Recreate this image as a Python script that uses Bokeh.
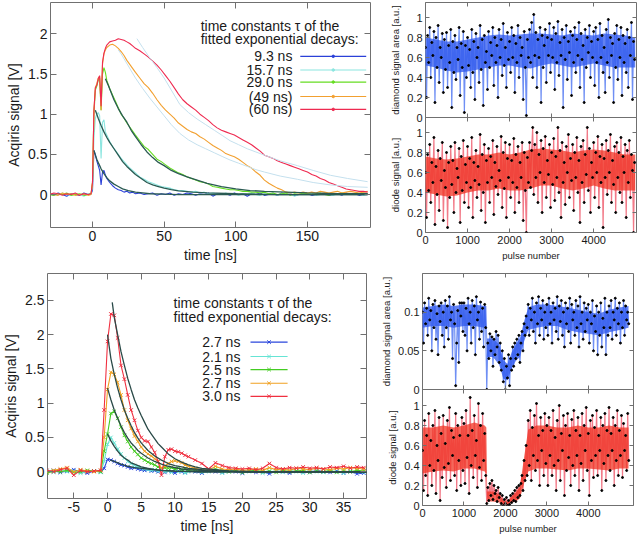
from bokeh.plotting import figure
from bokeh.layouts import row, column
from bokeh.models import FixedTicker, NumeralTickFormatter, LinearAxis, Label, Range1d
from bokeh.embed import file_html
from bokeh.resources import INLINE

FONT = "Liberation Sans"
FRAME = "#707070"
TXT = "#1a1a1a"

# ---------------- top-left: Acqiris traces (ns) ----------------
t_top = [-30, -27, -24, -21, -18, -15, -12, -9, -6, -3, -1,
         0, 1, 2, 3, 4, 5, 6, 7, 8, 9, 10,
         12, 14, 16, 18, 20, 22, 24, 26, 28, 30,
         33, 36, 39, 42, 45, 48, 51, 54, 57, 60,
         63, 66, 69, 72, 75, 78, 81, 84, 87, 90,
         93, 96, 99, 102, 105, 108, 111, 114, 117, 120,
         123, 126, 129, 132, 135, 138, 141, 144, 147, 150,
         153, 156, 159, 162, 165, 168, 171, 174, 177, 180,
         183, 186, 189, 192]
tl_blue = [0.01, -0.01, 0.02, 0.0, -0.02, 0.01, 0.0, -0.01, 0.02, 0.0, 0.01,
           0.05, 0.55, 0.5, 0.42, 0.36, 0.3, 0.12, 0.28, 0.3, 0.24, 0.2,
           0.15, 0.11, 0.08, 0.06, 0.05, 0.03, 0.04, 0.02, 0.03, 0.01,
           0.02, 0.0, 0.01, 0.02, -0.01, 0.01, 0.0, 0.02, -0.01, 0.01,
           0.0, 0.02, 0.01, -0.01, 0.01, 0.0, 0.02, -0.02, 0.01, 0.0,
           0.01, -0.01, 0.02, 0.0, 0.01, -0.02, 0.01, 0.0, 0.02, -0.01,
           0.0, 0.01, -0.01, 0.02, 0.0, 0.01, -0.01, 0.0, 0.02, 0.01,
           -0.01, 0.0, 0.01, 0.02, -0.01, 0.0, 0.01, -0.01, 0.02, 0.0,
           0.01, -0.01, 0.0, 0.01]
tl_cyan = [0.0, 0.01, -0.01, 0.02, 0.0, -0.01, 0.01, 0.0, -0.02, 0.01, 0.0,
           0.1, 0.7, 0.95, 1.0, 1.02, 0.98, 0.45, 0.9, 0.93, 0.78, 0.74,
           0.66, 0.6, 0.55, 0.5, 0.45, 0.41, 0.37, 0.33, 0.3, 0.27,
           0.22, 0.19, 0.16, 0.14, 0.12, 0.1, 0.09, 0.08, 0.06, 0.05,
           0.05, 0.04, 0.03, 0.04, 0.02, 0.03, 0.01, 0.02, 0.01, 0.0,
           0.02, 0.0, 0.01, -0.01, 0.01, 0.0, 0.02, 0.0, -0.01, 0.01,
           0.0, 0.02, -0.01, 0.01, 0.0, 0.01, -0.02, 0.0, 0.01, 0.0,
           0.02, -0.01, 0.0, 0.01, 0.0, -0.01, 0.01, 0.02, 0.0, 0.01,
           0.0, 0.01, -0.01, 0.0]
tl_green = [0.0, -0.01, 0.01, 0.0, 0.02, -0.01, 0.0, 0.01, -0.01, 0.0, 0.01,
            0.15, 1.0, 1.3, 1.35, 1.42, 1.45, 1.05, 1.5, 1.58, 1.52, 1.42,
            1.32, 1.24, 1.16, 1.08, 1.0, 0.95, 0.89, 0.84, 0.79, 0.74,
            0.67, 0.6, 0.56, 0.5, 0.44, 0.41, 0.37, 0.33, 0.3, 0.27,
            0.25, 0.22, 0.2, 0.18, 0.16, 0.15, 0.13, 0.1, 0.09, 0.08,
            0.07, 0.06, 0.06, 0.05, 0.04, 0.04, 0.03, 0.03, 0.02, 0.03,
            0.01, 0.02, 0.0, 0.01, 0.02, -0.01, 0.01, 0.0, 0.02, 0.01,
            0.0, 0.01, 0.02, 0.0, -0.01, 0.01, 0.0, 0.02, 0.01, 0.0,
            0.01, 0.0, 0.02, 0.01]
tl_orange = [0.01, 0.0, -0.01, 0.02, 0.0, 0.01, -0.01, 0.0, 0.01, -0.01, 0.0,
             0.15, 1.05, 1.33, 1.38, 1.45, 1.47, 1.05, 1.62, 1.75, 1.8, 1.83,
             1.86, 1.87, 1.85, 1.82, 1.78, 1.73, 1.67, 1.62, 1.57, 1.52,
             1.45, 1.38, 1.33, 1.26, 1.18, 1.11, 1.05, 1.0, 0.95, 0.89,
             0.85, 0.81, 0.78, 0.76, 0.72, 0.69, 0.65, 0.61, 0.58, 0.55,
             0.51, 0.49, 0.47, 0.44, 0.4, 0.36, 0.33, 0.28, 0.24, 0.18,
             0.14, 0.11, 0.08, 0.06, 0.03, 0.02, 0.03, 0.02, 0.03, 0.02,
             0.03, 0.02, 0.04, 0.03, 0.02, 0.03, 0.04, 0.02, 0.03, 0.04,
             0.03, 0.02, 0.03, 0.04]
tl_red = [0.0, 0.02, 0.01, -0.01, 0.01, 0.0, 0.02, -0.01, 0.01, 0.0, 0.01,
          0.15, 1.05, 1.33, 1.36, 1.44, 1.48, 1.1, 1.65, 1.76, 1.82, 1.86,
          1.9, 1.91, 1.92, 1.94, 1.93, 1.92, 1.9, 1.88, 1.85, 1.82,
          1.79, 1.75, 1.71, 1.66, 1.61, 1.55, 1.48, 1.41, 1.33, 1.25,
          1.18, 1.13, 1.09, 1.05, 1.0, 0.96, 0.92, 0.87, 0.83, 0.8,
          0.78, 0.76, 0.74, 0.71, 0.68, 0.65, 0.62, 0.58, 0.54, 0.49,
          0.47, 0.45, 0.42, 0.4, 0.38, 0.36, 0.34, 0.32, 0.3, 0.28,
          0.25, 0.23, 0.2, 0.18, 0.15, 0.13, 0.11, 0.09, 0.07, 0.06,
          0.05, 0.04, 0.04, 0.03]

# fitted exponential decays (top-left)
tl_fit_blue_t = [1, 2, 3, 4, 5, 6, 8, 10, 12, 15, 18, 21, 25, 30, 35, 40, 50, 60, 80, 100, 130, 160, 192]
tl_fit_blue_v = [0.55, 0.49, 0.44, 0.4, 0.36, 0.32, 0.26, 0.21, 0.17, 0.13, 0.1, 0.07, 0.05, 0.03, 0.02, 0.01, 0.005, 0.0, 0.0, 0.0, 0.0, 0.0, 0.0]
tl_fit_cyan_t = [2, 4, 6, 8, 10, 12, 15, 18, 21, 24, 27, 30, 34, 38, 42, 46, 50, 55, 60, 70, 80, 100, 130, 160, 192]
tl_fit_cyan_v = [1.05, 0.95, 0.86, 0.78, 0.71, 0.65, 0.57, 0.49, 0.41, 0.35, 0.3, 0.25, 0.2, 0.15, 0.12, 0.1, 0.08, 0.06, 0.045, 0.03, 0.02, 0.01, 0.0, 0.0, 0.0]
tl_fit_green_t = [9, 11, 13, 15, 18, 21, 24, 27, 30, 34, 38, 42, 46, 50, 55, 60, 66, 73, 80, 90, 100, 110, 120, 135, 150, 170, 192]
tl_fit_green_v = [1.44, 1.36, 1.27, 1.18, 1.07, 0.98, 0.9, 0.8, 0.72, 0.62, 0.53, 0.46, 0.4, 0.36, 0.3, 0.26, 0.22, 0.18, 0.14, 0.1, 0.07, 0.05, 0.04, 0.03, 0.02, 0.01, 0.01]
tl_fit_orange_t = [18, 20, 25, 30, 35, 40, 45, 50, 55, 61, 67, 73, 79, 85, 91, 96, 102, 108, 114, 120, 131, 143, 154, 166, 178, 192]
tl_fit_orange_v = [1.8, 1.75, 1.6, 1.45, 1.32, 1.2, 1.09, 0.98, 0.87, 0.76, 0.68, 0.62, 0.57, 0.52, 0.47, 0.43, 0.39, 0.35, 0.31, 0.28, 0.23, 0.19, 0.15, 0.12, 0.1, 0.09]
tl_fit_red_t = [31, 35, 40, 45, 50, 55, 61, 67, 73, 79, 85, 91, 96, 102, 108, 114, 120, 131, 143, 154, 166, 178, 192]
tl_fit_red_v = [1.94, 1.83, 1.7, 1.58, 1.45, 1.3, 1.12, 1.02, 0.94, 0.87, 0.8, 0.73, 0.67, 0.62, 0.57, 0.53, 0.49, 0.42, 0.36, 0.3, 0.24, 0.2, 0.16]
tl_labels = ["9.3 ns", "15.7 ns", "29.0 ns", "(49 ns)", "(60 ns)"]

# ---------------- bottom-left: Acqiris traces (ns) ----------------
t_bot = [-9, -8, -7, -6, -5, -4, -3, -2, -1,
         -0.5, 0, 0.5, 1, 1.5, 2, 2.5, 3, 3.5, 4, 4.5, 5, 5.5, 6, 6.5, 7, 7.5, 8, 8.5, 9, 9.5, 10, 10.5, 11, 11.5, 12,
         13, 14, 15, 16, 17, 18, 19, 20, 21, 22, 23, 24, 25, 26, 27, 28, 29, 30, 31, 32, 33, 34, 35, 36, 37, 38]
bl_blue = [0.0, 0.02, -0.01, 0.01, 0.03, 0.0, -0.02, 0.01, 0.0,
           0.05, 0.18, 0.17, 0.15, 0.12, 0.1, 0.09, 0.07, 0.05, 0.06, 0.04, 0.03, 0.02, 0.03, 0.01, 0.02, 0.0, 0.02, -0.01, 0.01, 0.0, -0.02, 0.01, 0.0, -0.01, 0.01,
           0.0, -0.02, 0.01, 0.0, -0.01, 0.02, 0.0, -0.02, 0.01, -0.01, 0.0, -0.03, 0.01, 0.0, -0.02, 0.01, 0.0, -0.01, 0.02, 0.0, -0.01, 0.01, -0.02, 0.0, -0.03, -0.02]
bl_cyan = [0.01, -0.01, 0.02, 0.0, 0.01, -0.02, 0.0, 0.01, -0.01,
           0.15, 0.4, 0.5, 0.42, 0.33, 0.26, 0.2, 0.15, 0.12, 0.09, 0.07, 0.05, 0.04, 0.03, 0.02, 0.03, 0.01, 0.02, 0.0, 0.01, -0.01, 0.02, 0.0, 0.01, -0.02, 0.0,
           0.01, -0.01, 0.0, 0.02, -0.02, 0.0, 0.01, -0.01, 0.0, 0.01, -0.02, 0.0, 0.01, -0.01, 0.02, 0.0, -0.02, 0.01, 0.0, -0.01, 0.01, 0.0, -0.02, 0.01, 0.0, -0.01]
bl_green = [-0.02, 0.01, 0.0, 0.02, -0.01, 0.0, 0.02, 0.01, 0.0,
            0.3, 0.55, 0.85, 0.88, 0.78, 0.65, 0.53, 0.44, 0.36, 0.3, 0.25, 0.2, 0.17, 0.14, 0.12, 0.1, 0.07, 0.05, 0.06, 0.05, 0.06, 0.04, 0.05, 0.03, 0.04, 0.02,
            0.03, 0.01, 0.02, 0.04, 0.01, 0.0, 0.02, -0.01, 0.01, 0.02, 0.0, 0.01, -0.01, 0.02, 0.0, 0.01, 0.02, -0.01, 0.01, 0.0, 0.02, -0.01, 0.01, 0.0, 0.02, 0.01]
bl_orange = [0.0, 0.02, 0.04, 0.06, 0.0, 0.03, 0.01, 0.0, 0.02,
             0.5, 1.2, 1.45, 1.42, 1.3, 1.12, 0.9, 0.75, 0.63, 0.52, 0.44, 0.36, 0.3, 0.26, 0.23, 0.19, 0.15, 0.05, 0.08, 0.12, 0.15, 0.16, 0.15, 0.13, 0.1, 0.08,
             0.05, 0.03, 0.02, 0.08, 0.04, 0.03, 0.04, 0.02, 0.03, 0.04, 0.02, 0.06, 0.03, 0.04, 0.02, 0.05, 0.04, 0.03, 0.05, 0.04, 0.03, 0.05, 0.04, 0.06, 0.05, 0.04]
bl_red = [0.02, 0.0, 0.03, 0.05, -0.05, 0.02, 0.0, 0.01, 0.02,
          0.9, 1.9, 2.3, 2.28, 1.95, 1.55, 1.35, 1.12, 0.9, 0.75, 0.6, 0.5, 0.45, 0.44, 0.36, 0.28, 0.15, -0.05, 0.22, 0.32, 0.33, 0.3, 0.29, 0.27, 0.24, 0.22,
          0.17, 0.12, 0.04, 0.13, 0.09, 0.06, 0.05, 0.04, 0.05, 0.03, 0.05, 0.12, 0.06, 0.04, 0.06, 0.05, 0.07, 0.05, 0.06, 0.04, 0.07, 0.06, 0.08, 0.05, 0.07, 0.06]

bl_fit_blue_t = [0.4, 1, 2, 3, 4, 5, 6, 8, 10, 14, 38.5]
bl_fit_blue_v = [0.17, 0.15, 0.11, 0.08, 0.06, 0.05, 0.04, 0.02, 0.01, 0.0, 0.0]
bl_fit_cyan_t = [0, 0.5, 1, 1.5, 2, 2.5, 3, 3.5, 4, 5, 6, 7, 8, 10, 14, 38.5]
bl_fit_cyan_v = [0.55, 0.45, 0.37, 0.3, 0.24, 0.2, 0.17, 0.13, 0.11, 0.07, 0.05, 0.03, 0.02, 0.01, 0.0, 0.0]
bl_fit_green_t = [0, 0.5, 1, 1.5, 2, 2.5, 3, 3.5, 4, 4.5, 5, 6, 7, 8, 9, 10, 11, 12, 14, 16, 20, 38.5]
bl_fit_green_v = [1.22, 1.05, 0.9, 0.78, 0.67, 0.57, 0.49, 0.42, 0.37, 0.31, 0.27, 0.2, 0.15, 0.11, 0.08, 0.06, 0.04, 0.03, 0.02, 0.01, 0.0, 0.0]
bl_fit_orange_t = [0, 0.5, 1, 1.5, 2, 2.5, 3, 3.5, 4, 4.5, 5, 6, 7, 8, 9, 10, 11, 12, 14, 16, 18, 22, 38.5]
bl_fit_orange_v = [2.0, 1.65, 1.42, 1.22, 1.05, 0.9, 0.78, 0.67, 0.57, 0.49, 0.42, 0.31, 0.23, 0.17, 0.12, 0.09, 0.07, 0.05, 0.03, 0.02, 0.01, 0.0, 0.0]
bl_fit_red_t = [0.7, 1, 1.5, 2, 2.5, 3, 3.5, 4, 4.5, 5, 5.5, 6, 6.5, 7, 7.5, 8, 9, 10, 11, 12, 13, 14, 16, 18, 22, 30, 38.5]
bl_fit_red_v = [2.47, 2.25, 2.0, 1.75, 1.55, 1.36, 1.2, 1.05, 0.93, 0.82, 0.72, 0.62, 0.55, 0.48, 0.41, 0.36, 0.26, 0.19, 0.14, 0.1, 0.07, 0.05, 0.03, 0.01, 0.0, 0.0, 0.0]
bl_labels = ["2.7 ns", "2.1 ns", "2.5 ns", "2.7 ns", "3.0 ns"]

# ---------------- right panels: per-pulse signals (every 25th pulse) ----------------
pulse = list(range(0, 5000, 25))
tr_diamond = [
    0.7, 0.2, 0.82, 0.55, 0.9, 0.4, 0.75, 0.62, 0.86, 0.15, 0.8, 0.5, 0.92, 0.35, 0.7, 0.6, 0.84, 0.25, 0.78, 0.48,
    0.85, 0.3, 0.72, 0.55, 0.88, 0.1, 0.76, 0.45, 0.82, 0.38, 0.7, 0.58, 0.9, 0.22, 0.74, 0.5, 0.86, 0.05, 0.72, 0.4,
    0.8, 0.52, 0.68, 0.3, 0.88, 0.45, 0.76, 0.18, 0.84, 0.6, 0.7, 0.35, 0.92, 0.48, 0.78, 0.12, 0.82, 0.55, 0.66, 0.28,
    0.86, 0.5, 0.75, 0.62, 0.9, 0.32, 0.8, 0.55, 0.72, 0.2, 0.88, 0.6, 0.78, 0.42, 0.94, 0.52, 0.7, 0.3, 0.85, 0.58,
    0.76, 0.45, 0.9, 0.6, 0.82, 0.25, 0.74, 0.55, 0.92, 0.4, 0.8, 0.62, 0.7, 0.18, 0.86, 0.5, 0.02, 0.78, 0.6, 0.88,
    0.55, 0.95, 0.4, 1.03, 0.62, 0.85, 0.3, 0.78, 0.6, 0.9, 0.15, 0.82, 0.5, 0.72, 0.88, 0.35, 0.8, 0.62, 0.94, 0.45,
    0.78, 0.6, 0.9, 0.28, 0.84, 0.55, 0.96, 0.42, 0.75, 0.62, 0.88, 0.1, 0.8, 0.58, 0.92, 0.38, 0.76, 0.65, 0.86, 0.22,
    0.82, 0.55, 0.9, 0.45, 0.78, 0.62, 0.95, 0.3, 0.84, 0.58, 0.72, 0.15, 0.88, 0.5, 0.8, 0.65, 0.92, 0.4, 0.76, 0.6,
    0.86, 0.32, 0.9, 0.55, 0.78, 0.2, 0.94, 0.6, 0.82, 0.45, 0.7, 0.25, 0.88, 0.55, 0.98, 0.4, 0.8, 0.62, 0.74, 0.15,
    0.84, 0.5, 0.92, 0.38, 0.78, 0.6, 0.9, 0.22, 0.82, 0.55, 0.74, 0.45, 0.88, 0.3, 0.8, 0.62, 0.95, 0.18, 0.76, 0.58]
tr_diode = [
    0.6, 0.15, 0.78, 0.42, 0.88, 0.3, 0.7, 0.5, 0.95, 0.08, 0.66, 0.38, 0.82, 0.22, 0.74, 0.52, 0.9, 0.12, 0.62, 0.45,
    0.8, 0.05, 0.7, 0.35, 0.86, 0.48, 0.72, 0.2, 0.9, 0.4, 0.64, 0.55, 0.84, 0.1, 0.76, 0.42, 0.92, 0.3, 0.68, 0.5,
    0.86, 0.25, 0.74, 0.45, 0.95, 0.15, 0.7, 0.52, 0.82, 0.35, 0.66, 0.48, 0.98, 0.22, 0.78, 0.4, 0.88, 0.1, 0.72, 0.5,
    0.84, 0.3, 0.76, 0.55, 0.92, 0.18, 0.7, 0.46, 0.86, 0.38, 0.62, 0.52, 0.96, 0.25, 0.8, 0.44, 0.9, 0.15, 0.74, 0.55,
    0.88, 0.35, 0.72, 0.5, 0.94, 0.2, 0.78, 0.45, 0.86, 0.3, 0.7, 0.55, 0.9, 0.12, 0.8, 0.42, 0.0, 0.75, 0.5, 0.9,
    0.45, 0.82, 1.05, 0.38, 0.88, 0.55, 1.0, 0.3, 0.78, 0.6, 0.92, 0.2, 0.84, 0.5, 0.96, 0.35, 0.72, 0.58, 0.88, 0.25,
    0.8, 0.48, 0.94, 0.32, 0.76, 0.55, 1.05, 0.4, 0.82, 0.15, 0.9, 0.5, 0.7, 0.28, 0.86, 0.6, 0.98, 0.35, 0.74, 0.52,
    0.88, 0.22, 0.8, 0.55, 0.95, 0.4, 0.72, 0.1, 0.86, 0.5, 0.92, 0.3, 0.78, 0.58, 1.05, 0.42, 0.84, 0.2, 0.7, 0.55,
    0.9, 0.35, 0.8, 0.6, 0.96, 0.25, 0.76, 0.5, 0.88, 0.05, 0.74, 0.55, 0.92, 0.38, 0.82, 0.6, 0.98, 0.3, 0.72, 0.48,
    0.86, 0.2, 0.9, 0.55, 0.8, 0.4, 0.95, 0.3, 0.76, 0.6, 0.88, 0.15, 0.82, 0.5, 0.92, 0.35, 0.78, 0.62, 0.0, 0.7]
br_diamond = [
    0.1, 0.06, 0.112, 0.085, 0.105, 0.07, 0.118, 0.09, 0.102, 0.05, 0.11, 0.08, 0.115, 0.065, 0.098, 0.045, 0.108, 0.088, 0.112, 0.07,
    0.1, 0.055, 0.115, 0.08, 0.108, 0.065, 0.12, 0.09, 0.1, 0.04, 0.11, 0.085, 0.005, 0.06, 0.102, 0.035, 0.112, 0.095, 0.112, 0.075,
    0.112, 0.07, 0.105, 0.05, 0.118, 0.085, 0.1, 0.06, 0.115, 0.08, 0.108, 0.045, 0.12, 0.09, 0.1, 0.065, 0.113, 0.075, 0.105, 0.055,
    0.11, 0.08, 0.0, 0.06, 0.04, 0.072, 0.05, 0.068, 0.03, 0.065, 0.045, 0.075, 0.055, 0.07, 0.035, 0.06, 0.025, 0.05, 0.01, 0.04,
    0.0, 0.03, 0.015, 0.045, 0.005, 0.04, 0.025, 0.055, 0.03, 0.06, 0.04, 0.065, 0.045, 0.07, 0.035, 0.06, 0.075, 0.05, 0.085, 0.07,
    0.095, 0.08, 0.11, 0.07, 0.105, 0.09, 0.118, 0.075, 0.1, 0.06, 0.112, 0.085, 0.12, 0.07, 0.105, 0.09, 0.115, 0.065, 0.1, 0.08,
    0.11, 0.07, 0.118, 0.085, 0.1, 0.06, 0.112, 0.09, 0.105, 0.075, 0.12, 0.065, 0.108, 0.088, 0.115, 0.07, 0.1, 0.055, 0.112, 0.085,
    0.105, 0.075, 0.118, 0.06, 0.11, 0.09, 0.1, 0.07, 0.115, 0.08, 0.108, 0.055, 0.12, 0.085, 0.1, 0.065, 0.112, 0.075, 0.105, 0.09,
    0.11, 0.06, 0.1, 0.085, 0.115, 0.05, 0.095, 0.075, 0.108, 0.045, 0.1, 0.07, 0.112, 0.055, 0.092, 0.08, 0.118, 0.045, 0.1, 0.07,
    0.108, 0.08, 0.115, 0.065, 0.1, 0.09, 0.118, 0.07, 0.105, 0.085, 0.112, 0.06, 0.1, 0.08, 0.115, 0.07, 0.108, 0.09, 0.1, 0.085]
br_diode = [
    0.55, 0.15, 0.85, 0.3, 0.7, 0.1, 0.92, 0.4, 0.65, 0.2, 0.8, 0.35, 0.95, 0.12, 0.6, 0.45, 0.88, 0.05, 0.72, 0.28,
    0.9, 0.38, 0.62, 0.18, 0.85, 0.42, 0.98, 0.25, 0.75, 0.5, 0.68, 0.3, 0.92, 0.15, 0.8, 0.45, 0.7, 0.2, 0.88, 0.35,
    0.82, 0.22, 0.95, 0.48, 0.7, 0.12, 1.08, 0.4, 0.75, 0.28, 0.9, 0.5, 0.65, 0.18, 1.02, 0.38, 0.8, 0.25, 0.92, 0.45,
    0.72, 0.3, 0.02, 0.18, 0.05, 0.22, 0.1, 0.25, 0.06, 0.2, 0.12, 0.15, 0.04, 0.18, 0.08, 0.12, 0.02, 0.1, 0.0, 0.06,
    0.02, 0.08, 0.0, 0.05, 0.01, 0.1, 0.03, 0.12, 0.05, 0.15, 0.04, 0.18, 0.08, 0.2, 0.1, 0.22, 0.3, 0.15, 0.45, 0.25,
    0.6, 0.3, 0.85, 0.4, 0.95, 0.25, 0.78, 0.5, 0.9, 0.35, 1.02, 0.45, 0.7, 0.2, 0.88, 0.55, 0.75, 0.3, 0.92, 0.42,
    0.8, 0.2, 0.88, 0.5, 0.75, 0.3, 0.95, 0.4, 0.68, 0.15, 0.85, 0.45, 1.0, 0.25, 0.72, 0.55, 0.9, 0.1, 0.8, 0.35,
    0.92, 0.48, 0.7, 0.2, 0.86, 0.4, 0.95, 0.3, 0.75, 0.5, 0.88, 0.15, 0.7, 0.42, 0.92, 0.25, 0.8, 0.55, 0.98, 0.35,
    0.72, 0.1, 0.85, 0.45, 0.9, 0.28, 0.78, 0.5, 0.95, 0.3, 0.7, 0.55, 0.88, 0.15, 0.8, 0.42, 0.92, 0.25, 0.75, 0.5,
    0.98, 0.35, 0.72, 0.55, 0.88, 0.2, 0.8, 0.45, 0.95, 0.3, 0.75, 0.5, 0.9, 0.28, 0.82, 0.55, 0.7, 0.35, 0.92, 0.45]

# dense core of each pulse series (where most of the 5000 pulses lie)
tr_core_x = [0, 250, 500, 750, 1000, 1250, 1500, 1750, 2000, 2250, 2500, 2750, 3000, 3250, 3500, 3750, 4000, 4250, 4500, 4750, 4990]
tr_diamond_lo = [0.52, 0.5, 0.47, 0.45, 0.46, 0.48, 0.5, 0.52, 0.52, 0.5, 0.49, 0.52, 0.54, 0.52, 0.5, 0.52, 0.54, 0.52, 0.5, 0.5, 0.5]
tr_diamond_hi = [0.8, 0.78, 0.76, 0.76, 0.78, 0.8, 0.82, 0.83, 0.82, 0.83, 0.84, 0.84, 0.83, 0.82, 0.84, 0.83, 0.82, 0.84, 0.83, 0.82, 0.8]
tr_diode_lo = [0.4, 0.38, 0.36, 0.37, 0.4, 0.42, 0.42, 0.44, 0.42, 0.42, 0.44, 0.47, 0.47, 0.44, 0.42, 0.44, 0.47, 0.44, 0.42, 0.42, 0.42]
tr_diode_hi = [0.76, 0.74, 0.73, 0.74, 0.76, 0.78, 0.78, 0.8, 0.78, 0.8, 0.83, 0.84, 0.83, 0.82, 0.8, 0.82, 0.83, 0.82, 0.8, 0.78, 0.78]
br_core_x = [0, 250, 500, 750, 1000, 1250, 1500, 1540, 1560, 1700, 1850, 1950, 2050, 2150, 2250, 2350, 2450, 2550,
             2750, 3000, 3250, 3500, 3750, 4000, 4250, 4500, 4750, 4970]
br_diamond_lo = [0.08, 0.082, 0.082, 0.08, 0.082, 0.082, 0.08, 0.08, 0.042, 0.042, 0.032, 0.014, 0.012, 0.027, 0.037, 0.042, 0.062, 0.077,
                 0.08, 0.082, 0.082, 0.077, 0.074, 0.072, 0.07, 0.074, 0.077, 0.08]
br_diamond_hi = [0.106, 0.108, 0.11, 0.108, 0.11, 0.11, 0.108, 0.108, 0.066, 0.066, 0.058, 0.038, 0.033, 0.048, 0.058, 0.066, 0.088, 0.106,
                 0.11, 0.11, 0.108, 0.106, 0.103, 0.1, 0.098, 0.103, 0.106, 0.108]
br_diode_lo = [0.32, 0.34, 0.35, 0.34, 0.37, 0.37, 0.34, 0.32, 0.04, 0.04, 0.03, 0.01, 0.01, 0.03, 0.04, 0.07, 0.22, 0.34,
               0.37, 0.37, 0.36, 0.35, 0.37, 0.37, 0.36, 0.35, 0.37, 0.37]
br_diode_hi = [0.78, 0.78, 0.8, 0.78, 0.8, 0.83, 0.8, 0.78, 0.14, 0.14, 0.11, 0.05, 0.04, 0.09, 0.13, 0.19, 0.48, 0.76,
               0.8, 0.8, 0.78, 0.78, 0.8, 0.78, 0.78, 0.8, 0.78, 0.78]

# ---------------- styling helpers ----------------
def mute_labels(ax):
    ax.major_label_text_font_size = "0px"
    ax.major_label_text_color = None
    ax.major_label_standoff = 0


def make_fig(w, h, xr, yr, mb, xticks, yticks, xfmt, yfmt, fs, afs,
             xlabel=None, ylabel=None, show_x=True, tick_len=5, **kw):
    p = figure(width=w, height=h, x_range=Range1d(*xr), y_range=Range1d(*yr),
               output_backend="svg", toolbar_location=None,
               min_border_left=mb[0], min_border_right=mb[1],
               min_border_top=mb[2], min_border_bottom=mb[3], **kw)
    p.grid.visible = False
    p.outline_line_color = FRAME
    p.outline_line_width = 1
    p.background_fill_color = "white"
    p.border_fill_color = "white"
    for ax, ticks, fmt, lab in ((p.below[0], xticks, xfmt, xlabel), (p.left[0], yticks, yfmt, ylabel)):
        ax.ticker = FixedTicker(ticks=ticks)
        ax.formatter = NumeralTickFormatter(format=fmt)
        ax.major_tick_in = tick_len
        ax.major_tick_out = 0
        ax.major_tick_line_color = FRAME
        ax.minor_tick_line_color = None
        ax.axis_line_color = None
        ax.major_label_text_font = FONT
        ax.major_label_text_font_size = fs
        ax.major_label_text_color = TXT
        ax.major_label_standoff = 3
        if lab:
            ax.axis_label = lab
            ax.axis_label_text_font = FONT
            ax.axis_label_text_font_size = afs
            ax.axis_label_text_font_style = "normal"
            ax.axis_label_text_color = TXT
            ax.axis_label_standoff = 3
    if not show_x:
        mute_labels(p.below[0])
    for loc, ticks in (("above", xticks), ("right", yticks)):
        ax = LinearAxis(ticker=FixedTicker(ticks=ticks), major_tick_in=tick_len, major_tick_out=0,
                        major_tick_line_color=FRAME, minor_tick_line_color=None,
                        axis_line_color=None)
        mute_labels(ax)
        p.add_layout(ax, loc)
    return p


def legend(p, title_x, title_ys, entry_x, entry_ys, labels, seg, colors, marker, msize, fsz):
    p.add_layout(Label(x=title_x, y=title_ys[0], text="time constants \u03c4 of the",
                       text_font=FONT, text_font_size=fsz, text_color=TXT, text_baseline="middle"))
    p.add_layout(Label(x=title_x, y=title_ys[1], text="fitted exponential decays:",
                       text_font=FONT, text_font_size=fsz, text_color=TXT, text_baseline="middle"))
    for lab, yy, c in zip(labels, entry_ys, colors):
        p.add_layout(Label(x=entry_x, y=yy, text=lab, text_font=FONT, text_font_size=fsz,
                           text_color=TXT, text_align="right", text_baseline="middle"))
        p.line(x=[seg[0], seg[2]], y=[yy, yy], line_color=c, line_width=1.2)
        p.scatter(x=[seg[1]], y=[yy], marker=marker, size=msize, line_color=c, fill_color=c)


LEFT_TICK = "14px"
LEFT_LAB = "14px"
RIGHT_TICK = "11px"
RIGHT_LAB = "9.5px"

# ---- top-left ----
c_tl = ["#2b40d8", "#8ce6e0", "#66dd22", "#f2a030", "#ee2a50"]
tl = make_fig(372, 268, (-29.3, 194), (-0.41, 2.39), (50, 2, 2, 41),
              [0, 50, 100, 150], [0, 0.5, 1, 1.5, 2], "0", "0.[00]", LEFT_TICK, LEFT_LAB,
              xlabel="time [ns]", ylabel="Acqiris signal [V]", tick_len=6)
for ys, c in zip([tl_blue, tl_cyan, tl_green, tl_orange, tl_red], c_tl):
    tl.line(x=t_top, y=ys, line_color=c, line_width=1.1)
for ft, fv in ((tl_fit_blue_t, tl_fit_blue_v), (tl_fit_cyan_t, tl_fit_cyan_v), (tl_fit_green_t, tl_fit_green_v)):
    tl.line(x=ft, y=fv, line_color="#2a5a52", line_width=1.3)
for ft, fv in ((tl_fit_orange_t, tl_fit_orange_v), (tl_fit_red_t, tl_fit_red_v)):
    tl.line(x=ft, y=fv, line_color="#c4e0ee", line_width=1.0)
legend(tl, 75.5, (2.10, 1.94), 139.5, [1.72, 1.55, 1.40, 1.22, 1.06], tl_labels,
       (145, 168, 191), c_tl, "circle", 2.5, "14px")

# ---- bottom-left ----
c_bl = ["#2a46dc", "#66e4d4", "#44cc22", "#f0a020", "#f03040"]
bl = make_fig(372, 272, (-8.9, 38.4), (-0.39, 2.89), (47, 6, 5, 42),
              [-5, 0, 5, 10, 15, 20, 25, 30, 35], [0, 0.5, 1, 1.5, 2, 2.5], "0", "0.[00]",
              LEFT_TICK, LEFT_LAB, xlabel="time [ns]", ylabel="Acqiris signal [V]", tick_len=6)
for ys, c in zip([bl_blue, bl_cyan, bl_green, bl_orange, bl_red], c_bl):
    bl.line(x=t_bot, y=ys, line_color=c, line_width=1.1)
    bl.scatter(x=t_bot, y=ys, marker="x", size=5, line_color=c, line_width=1)
for ft, fv in ((bl_fit_blue_t, bl_fit_blue_v), (bl_fit_cyan_t, bl_fit_cyan_v), (bl_fit_green_t, bl_fit_green_v),
               (bl_fit_orange_t, bl_fit_orange_v), (bl_fit_red_t, bl_fit_red_v)):
    bl.line(x=ft, y=fv, line_color="#2a4a48", line_width=1.3)
legend(bl, 9.8, (2.46, 2.25), 19.7, [1.89, 1.68, 1.49, 1.29, 1.10], bl_labels,
       (21.2, 23.95, 26.7), c_bl, "x", 5, "14px")

# ---- right panels ----
def pulse_panel(w, h, xr, yr, mb, yticks, vals, core_x, core_lo, core_hi, lc, cc, ylabel, show_x, **kw):
    p = make_fig(w, h, xr, yr, mb, [0, 1000, 2000, 3000, 4000], yticks, "0", "0.[00]",
                 RIGHT_TICK, RIGHT_LAB, xlabel="pulse number" if show_x else None,
                 ylabel=ylabel, show_x=show_x, tick_len=4, **kw)
    p.line(x=pulse, y=vals, line_color=lc, line_width=1.2)
    p.varea(x=core_x, y1=core_lo, y2=core_hi, fill_color=cc, fill_alpha=0.75)
    p.scatter(x=pulse, y=vals, marker="circle", size=2.0, line_color="black", fill_color="black")
    if show_x:
        # lower panel overlaps the upper panel's bottom margin (where the upper "0" label sits)
        p.border_fill_alpha = 0
        p.background_fill_alpha = 0
    return p

yt1 = [0, 0.2, 0.4, 0.6, 0.8, 1]
BLUE_L, BLUE_C = "#6f8ff4", "#2f58ee"
RED_L, RED_C = "#f27a88", "#f03424"
tr1 = pulse_panel(267, 125, (0, 5020), (0, 1.15), (53, 3, 2, 8), yt1, tr_diamond,
                  tr_core_x, tr_diamond_lo, tr_diamond_hi, BLUE_L, BLUE_C, "diamond signal area [a.u.]", False)
tr2 = pulse_panel(267, 151, (0, 5020), (0, 1.15), (53, 3, 0, 36), yt1, tr_diode,
                  tr_core_x, tr_diode_lo, tr_diode_hi, RED_L, RED_C, "diode signal [a.u.]", True,
                  margin=(-8, 0, 0, 0))
br1 = pulse_panel(267, 129, (0, 5090), (0, 0.15), (50, 6, 5, 8), [0, 0.05, 0.1], br_diamond,
                  br_core_x, br_diamond_lo, br_diamond_hi, BLUE_L, BLUE_C, "diamond signal area [a.u.]", False)
br2 = pulse_panel(267, 150, (0, 5090), (0, 1.16), (50, 6, 0, 34), yt1, br_diode,
                  br_core_x, br_diode_lo, br_diode_hi, RED_L, RED_C, "diode signal [a.u.]", True,
                  margin=(-8, 0, 0, 0))

layout = column(row(tl, column(tr1, tr2, spacing=0), spacing=0),
                row(bl, column(br1, br2, spacing=0), spacing=0), spacing=0)

open("out.html", "w").write(file_html(layout, INLINE))
